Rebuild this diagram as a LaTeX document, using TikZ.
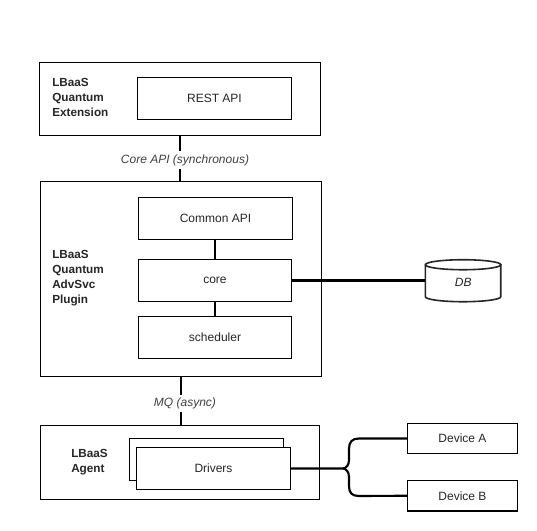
\documentclass[tikz,border=0pt]{standalone}
\usepackage{fontspec}
\setmainfont{Liberation Sans}
\newcommand{\pxbox}[6]{% name, x1,y1,x2,y2, text
  \pgfmathsetmacro{\bw}{(#4-#2)*0.75}%
  \pgfmathsetmacro{\bh}{(#5-#3)*0.75}%
  \node[boxs,minimum width=\bw pt,minimum height=\bh pt] (#1) at ({(#2+#4)/2},{(#3+#5)/2}) {#6};}
\begin{document}
\begin{tikzpicture}[x=0.75pt,y=-0.75pt,
  boxs/.style={draw=black,fill=white,line width=0.85pt,inner sep=0pt,outer sep=0pt,font=\fontsize{9}{11}\selectfont,text=black!85},
  title/.style={anchor=west,align=left,inner sep=0pt,font=\fontsize{8.8}{11.25}\selectfont\bfseries,text=black!85},
  edgelabel/.style={font=\fontsize{9}{11}\selectfont\itshape,text=black!75,fill=white,inner sep=2pt},
  thick link/.style={draw=black,line width=1.6pt}]
\useasboundingbox (0,0) rectangle (537,531);
% outer containers
\pxbox{ext}{39.5}{62.5}{320.5}{135.5}{}
\pxbox{plugin}{40.5}{181.5}{321.5}{376.5}{}
\pxbox{agent}{40.5}{425.5}{319.5}{499.5}{}
% inner boxes
\pxbox{rest}{137.5}{77.5}{291.5}{119.5}{REST API}
\pxbox{common}{138.5}{197.5}{292.5}{239.5}{Common API}
\pxbox{core}{138.5}{259.5}{291.5}{301.5}{\raisebox{-0.7pt}{core}}
\pxbox{sched}{138.5}{316.5}{291.5}{358.5}{scheduler}
\pxbox{drvback}{129.5}{438.5}{283.5}{480.5}{}
\pxbox{drivers}{136.5}{447.5}{290.5}{489.5}{Drivers}
\pxbox{deva}{407.5}{423.5}{517.5}{453.5}{Device A}
\pxbox{devb}{407.5}{480.5}{517.5}{511}{Device B}
% titles
\node[title] (t1) at (52,97) {LBaaS\\Quantum\\Extension};
\node[title] (t2) at (52,278.5) {LBaaS\\Quantum\\AdvSvc\\Plugin};
\node[title] (t3) at (71,462.5) {LBaaS\\Agent};
% edge labels
\node[edgelabel] (l1) at (185,160) {Core API (synchronous)};
\node[edgelabel] (l2) at (185,403.5) {MQ (async)};
% database
\node[inner sep=0pt,minimum width=56.5pt,minimum height=31.5pt] (db) at (463.3,281) {};
\draw[black!85,line width=1.2pt,fill=white]
  (db.north west)++(0,5) coordinate (dbl)
  -- ++(0,32) arc[start angle=180,end angle=360,x radius=37.7,y radius=-5]
  -- ++(0,-32) -- cycle;
\draw[black!85,line width=1.2pt,fill=white] (dbl) arc[start angle=180,end angle=540,x radius=37.7,y radius=5];
\node[font=\fontsize{9}{11}\selectfont\itshape,text=black!85] (dbt) at (463.3,282) {DB};
% connectors
\draw[thick link] (ext.south -| 180,0) -- (l1.north -| 180,0);
\draw[thick link] (l1.south -| 180,0) -- (plugin.north -| 180,0);
\draw[thick link] (plugin.south -| 181,0) -- (l2.north -| 181,0);
\draw[thick link] (l2.south -| 181,0) -- (agent.north -| 181,0);
\draw[thick link] (common.south -| 215,0) -- (core.north -| 215,0);
\draw[thick link] (core.south -| 215,0) -- (sched.north -| 215,0);
\draw[thick link] (core.east) -- (db.west |- core.east);
\coordinate (junc) at (343,468.5);
\draw[thick link] (drivers.east |- junc) -- (junc)
  .. controls (346,468.5) and (349,465) .. (349,460) -- (349,449)
  .. controls (349,442) and (352,438.5) .. (359,438.5) -- (deva.west);
\draw[thick link] (junc)
  .. controls (346,468.5) and (349,472) .. (349,477) -- (349,486)
  .. controls (349,493) and (352,496) .. (359,496) -- (devb.west);
\end{tikzpicture}
\end{document}
